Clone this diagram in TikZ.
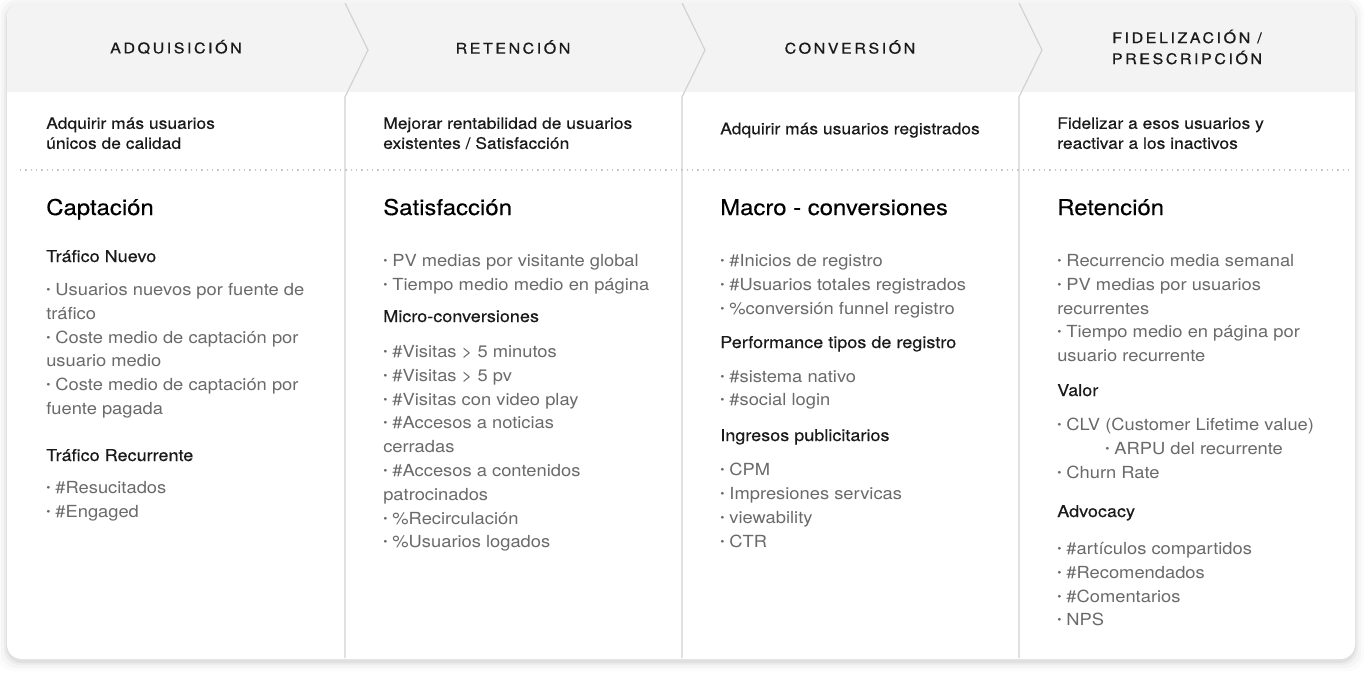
\documentclass[tikz,border=0pt]{standalone}
\usepackage{fontspec}
\setmainfont{TeX Gyre Heros}[FakeStretch=1.1]
\newfontfamily\capsfont{TeX Gyre Heros}[FakeStretch=1.1, LetterSpace=17, FakeBold=0.5]
\newfontfamily\medfont{TeX Gyre Heros}[FakeStretch=1.1, FakeBold=0.3]
\usetikzlibrary{positioning}

\definecolor{bandgray}{HTML}{F3F3F3}
\definecolor{linegray}{HTML}{D2D2D2}
\definecolor{dotgray}{HTML}{C8C8C8}
\definecolor{itemgray}{HTML}{6A6A6A}
\definecolor{inkblack}{HTML}{1A1A1A}

\newcommand{\bul}{\raisebox{0.12em}{\scalebox{0.65}{•}}\hspace{0.3em}}
\newcommand{\subind}{\hspace*{36pt}}

\tikzset{
  phase/.style={font=\capsfont\fontsize{11}{15.75}\selectfont, text=inkblack, align=center, inner sep=0pt},
  goal/.style={font=\medfont\fontsize{11.9}{15}\selectfont, text=inkblack, align=left, anchor=north west, inner sep=0pt,
    execute at begin node={\rule{0pt}{12pt}}},
  kpititle/.style={font=\medfont\fontsize{16.3}{20}\selectfont, text=black, anchor=base west, inner sep=0pt},
  kpigroup/.style={font=\medfont\fontsize{12.3}{18}\selectfont, text=inkblack, anchor=base west, inner sep=0pt},
  kpilist/.style={font=\fontsize{12.5}{17.85}\selectfont, text=itemgray, align=left, anchor=north west, inner sep=0pt,
    execute at begin node={\rule{0pt}{12pt}}},
  sepline/.style={draw=linegray, line width=0.9pt}
}

\begin{document}
\begin{tikzpicture}[x=0.75pt, y=-0.75pt]
    \useasboundingbox (0,0) rectangle (1364,672);

    % Card with soft shadow
    \foreach \s/\o in {9/0.015, 6/0.025, 3/0.035, 1/0.05}
      \fill[black, opacity=\o, rounded corners=12pt] (7-\s,3-\s+3) rectangle (1355+\s,659+\s+3);
    \fill[white, rounded corners=11pt] (7,3) rectangle (1355,659);
    \begin{scope}
      \clip[rounded corners=11pt] (7,3) rectangle (1355,659);
      \fill[bandgray] (7,3) rectangle (1355,92);
    \end{scope}

    % Separators
    \foreach \sx in {345, 682, 1019}
      \draw[sepline] (\sx,3) -- (\sx+23,50) -- (\sx,97) -- (\sx,658);
    \draw[dotgray, line width=1pt, dash pattern=on 0.9pt off 3.1pt] (20,170) -- (1352,170);

    % Phases
    \node[phase] (adq) at (176,47) {ADQUISICIÓN};
    \node[phase] (ret) at (513,47) {RETENCIÓN};
    \node[phase] (conv) at (850,47) {CONVERSIÓN};
    \node[phase] (fid) at (1187,47) {FIDELIZACIÓN /\\PRESCRIPCIÓN};

    % Goals
    \node[goal] (adqgoal) at (46,117) {Adquirir más usuarios\\únicos de calidad};
    \node[goal] (retgoal) at (383,117) {Mejorar rentabilidad de usuarios\\existentes / Satisfacción};
    \node[goal] (convgoal) at (720,118) {Adquirir más usuarios registrados};
    \node[goal] (fidgoal) at (1057,117) {Fidelizar a esos usuarios y\\reactivar a los inactivos};

    % Adquisicion
    \node[kpititle] (captacion) at (46,215) {Captación};
    \node[kpigroup] (nuevo) at (46,262) {Tráfico Nuevo};
    \node[kpilist] (nuevolist) at (46,283) {\bul Usuarios nuevos por fuente de\\tráfico\\\bul Coste medio de captación por\\usuario medio\\\bul Coste medio de captación por\\fuente pagada};
    \node[kpigroup] (recurrente) at (46,461) {Tráfico Recurrente};
    \node[kpilist] (recurrentelist) at (46,481) {\bul \#Resucitados\\\bul \#Engaged};

    % Retencion
    \node[kpititle] (satisf) at (383,215) {Satisfacción};
    \node[kpilist] (satisflist) at (383,254) {\bul PV medias por visitante global\\\bul Tiempo medio medio en página};
    \node[kpigroup] (micro) at (383,322) {Micro-conversiones};
    \node[kpilist] (microlist) at (383,345) {\bul \#Visitas > 5 minutos\\\bul \#Visitas > 5 pv\\\bul \#Visitas con video play\\\bul \#Accesos a noticias\\cerradas\\\bul \#Accesos a contenidos\\patrocinados\\\bul \%Recirculación\\\bul \%Usuarios logados};

    % Conversion
    \node[kpititle] (macro) at (720,215) {Macro - conversiones};
    \node[kpilist] (macrolist) at (720,254) {\bul \#Inicios de registro\\\bul \#Usuarios totales registrados\\\bul \%conversión funnel registro};
    \node[kpigroup] (perf) at (720,348) {Performance tipos de registro};
    \node[kpilist] (perflist) at (720,370) {\bul \#sistema nativo\\\bul \#social login};
    \node[kpigroup] (ingresos) at (720,441) {Ingresos publicitarios};
    \node[kpilist] (ingresoslist) at (720,463) {\bul CPM\\\bul Impresiones servicas\\\bul viewability\\\bul CTR};

    % Fidelizacion
    \node[kpititle] (retencion) at (1057,215) {Retención};
    \node[kpilist] (retlist) at (1057,254) {\bul Recurrencio media semanal\\\bul PV medias por usuarios\\recurrentes\\\bul Tiempo medio en página por\\usuario recurrente};
    \node[kpigroup] (valor) at (1057,396) {Valor};
    \node[kpilist] (valorlist) at (1057,418) {\bul CLV (Customer Lifetime value)\\\subind\bul ARPU del recurrente\\\bul Churn Rate};
    \node[kpigroup] (advocacy) at (1057,517) {Advocacy};
    \node[kpilist] (advlist) at (1057,542) {\bul \#artículos compartidos\\\bul \#Recomendados\\\bul \#Comentarios\\\bul NPS};
  \end{tikzpicture}
\end{document}
